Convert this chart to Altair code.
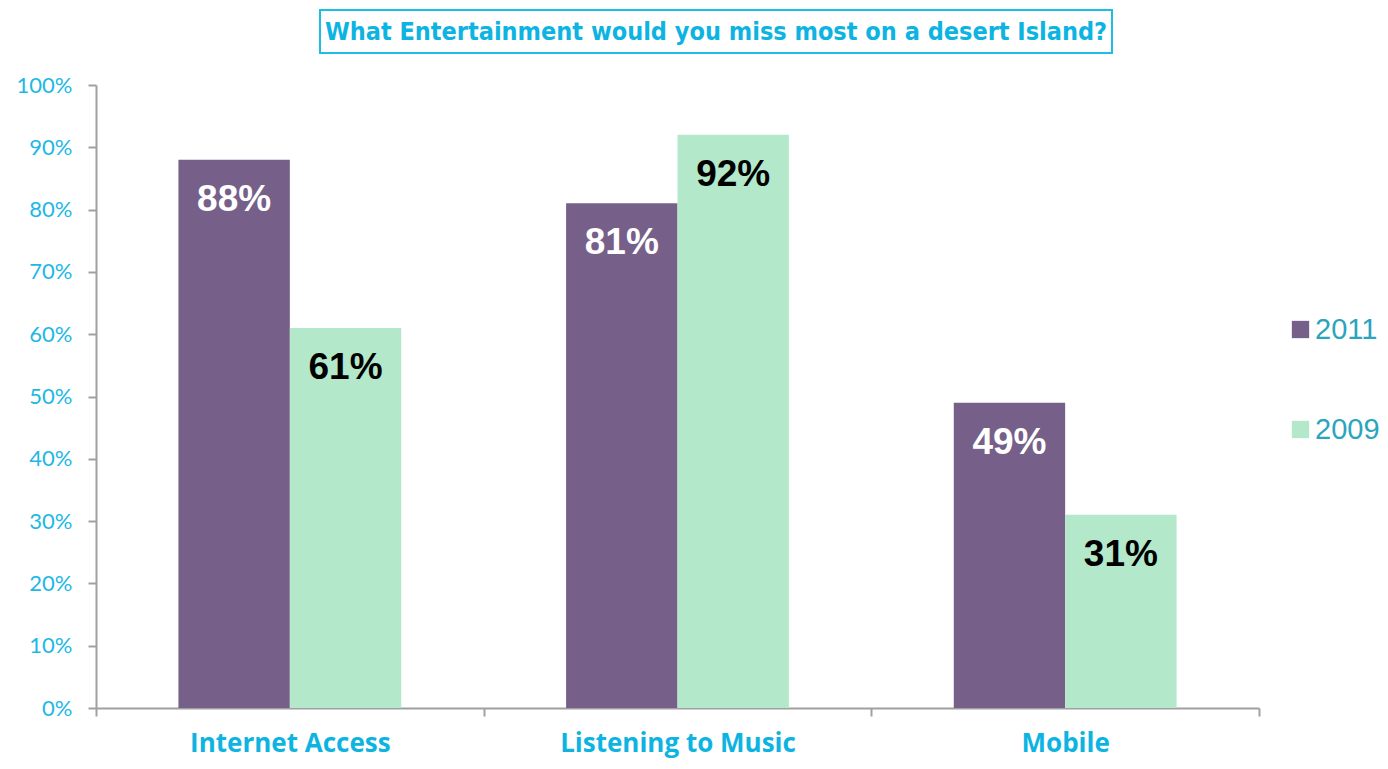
import altair as alt
import pandas as pd

categories = ["Internet Access", "Listening to Music", "Mobile"]
years = ["2011", "2009"]
values_2011 = [0.88, 0.81, 0.49]
values_2009 = [0.61, 0.92, 0.31]
title_text = "What Entertainment would you miss most  on a desert Island?"

rows = []
for c, a, b in zip(categories, values_2011, values_2009):
    rows.append({"category": c, "year": "2011", "value": a})
    rows.append({"category": c, "year": "2009", "value": b})
df = pd.DataFrame(rows)

x_enc = alt.X(
    "category:N",
    sort=categories,
    scale=alt.Scale(paddingInner=0, paddingOuter=0),
    axis=alt.Axis(
        title=None, labelAngle=0, tickBand="extent", tickSize=8, labelLimit=0,
        labelFont="Open Sans", labelFontWeight="bold", labelFontSize=26,
        labelColor="#0DB4E2", labelPadding=14,
        domainColor="#A0A0A0", tickColor="#A0A0A0", domainWidth=2, tickWidth=2,
    ),
)
y_enc = alt.Y(
    "value:Q",
    scale=alt.Scale(domain=[0, 1], nice=False),
    axis=alt.Axis(
        title=None, format=".0%", values=[i / 10 for i in range(11)], grid=False,
        tickSize=8, labelFont="Lato", labelFontSize=22, labelColor="#1DB8E5",
        labelPadding=16, domainColor="#A0A0A0", tickColor="#A0A0A0",
        domainWidth=2, tickWidth=2,
    ),
)
xoff = alt.XOffset("year:N", sort=years,
                   scale=alt.Scale(domain=years, paddingInner=0, paddingOuter=0.74))

base = alt.Chart(df)

bars = base.mark_bar().encode(
    x=x_enc,
    y=y_enc,
    xOffset=xoff,
    color=alt.Color(
        "year:N",
        scale=alt.Scale(domain=years, range=["#76608A", "#B3E8CA"]),
        legend=alt.Legend(
            title=None, orient="none", legendX=1190, legendY=230,
            symbolType="square", symbolSize=300, symbolStrokeWidth=0,
            labelFont="Liberation Sans", labelFontSize=29, labelColor="#2AA5BD",
            rowPadding=70, labelOffset=0, padding=0,
        ),
    ),
)

labels = base.mark_text(
    baseline="middle", align="center", dy=40,
    font="Liberation Sans", fontWeight="bold", fontSize=37,
).encode(
    x=alt.X("category:N", sort=categories),
    y="value:Q",
    xOffset=xoff,
    text=alt.Text("value:Q", format=".0%"),
    color=alt.condition(alt.datum.year == "2011", alt.value("white"), alt.value("black")),
)

tdf = pd.DataFrame({"t": [title_text]})
box = alt.Chart(tdf).mark_rect(
    fill="white", stroke="#1DBDE6", strokeWidth=2
).encode(
    x=alt.value(224), x2=alt.value(1016), y=alt.value(-75), y2=alt.value(-32)
)
ttl = alt.Chart(tdf).mark_text(
    font="DejaVu Sans Condensed, Liberation Sans", fontWeight="bold", fontSize=25,
    color="#0DB4E2", align="center", baseline="middle",
).encode(
    x=alt.value(620), y=alt.value(-53), text="t:N"
)

chart = alt.layer(bars, labels, box, ttl).properties(
    width=1163, height=623,
    autosize=alt.AutoSizeParams(type="none"),
    padding={"left": 88, "top": 77, "right": 121, "bottom": 53},
).configure_view(stroke=None)

chart.save("out.html", embed_options={"renderer": "svg", "actions": False})
